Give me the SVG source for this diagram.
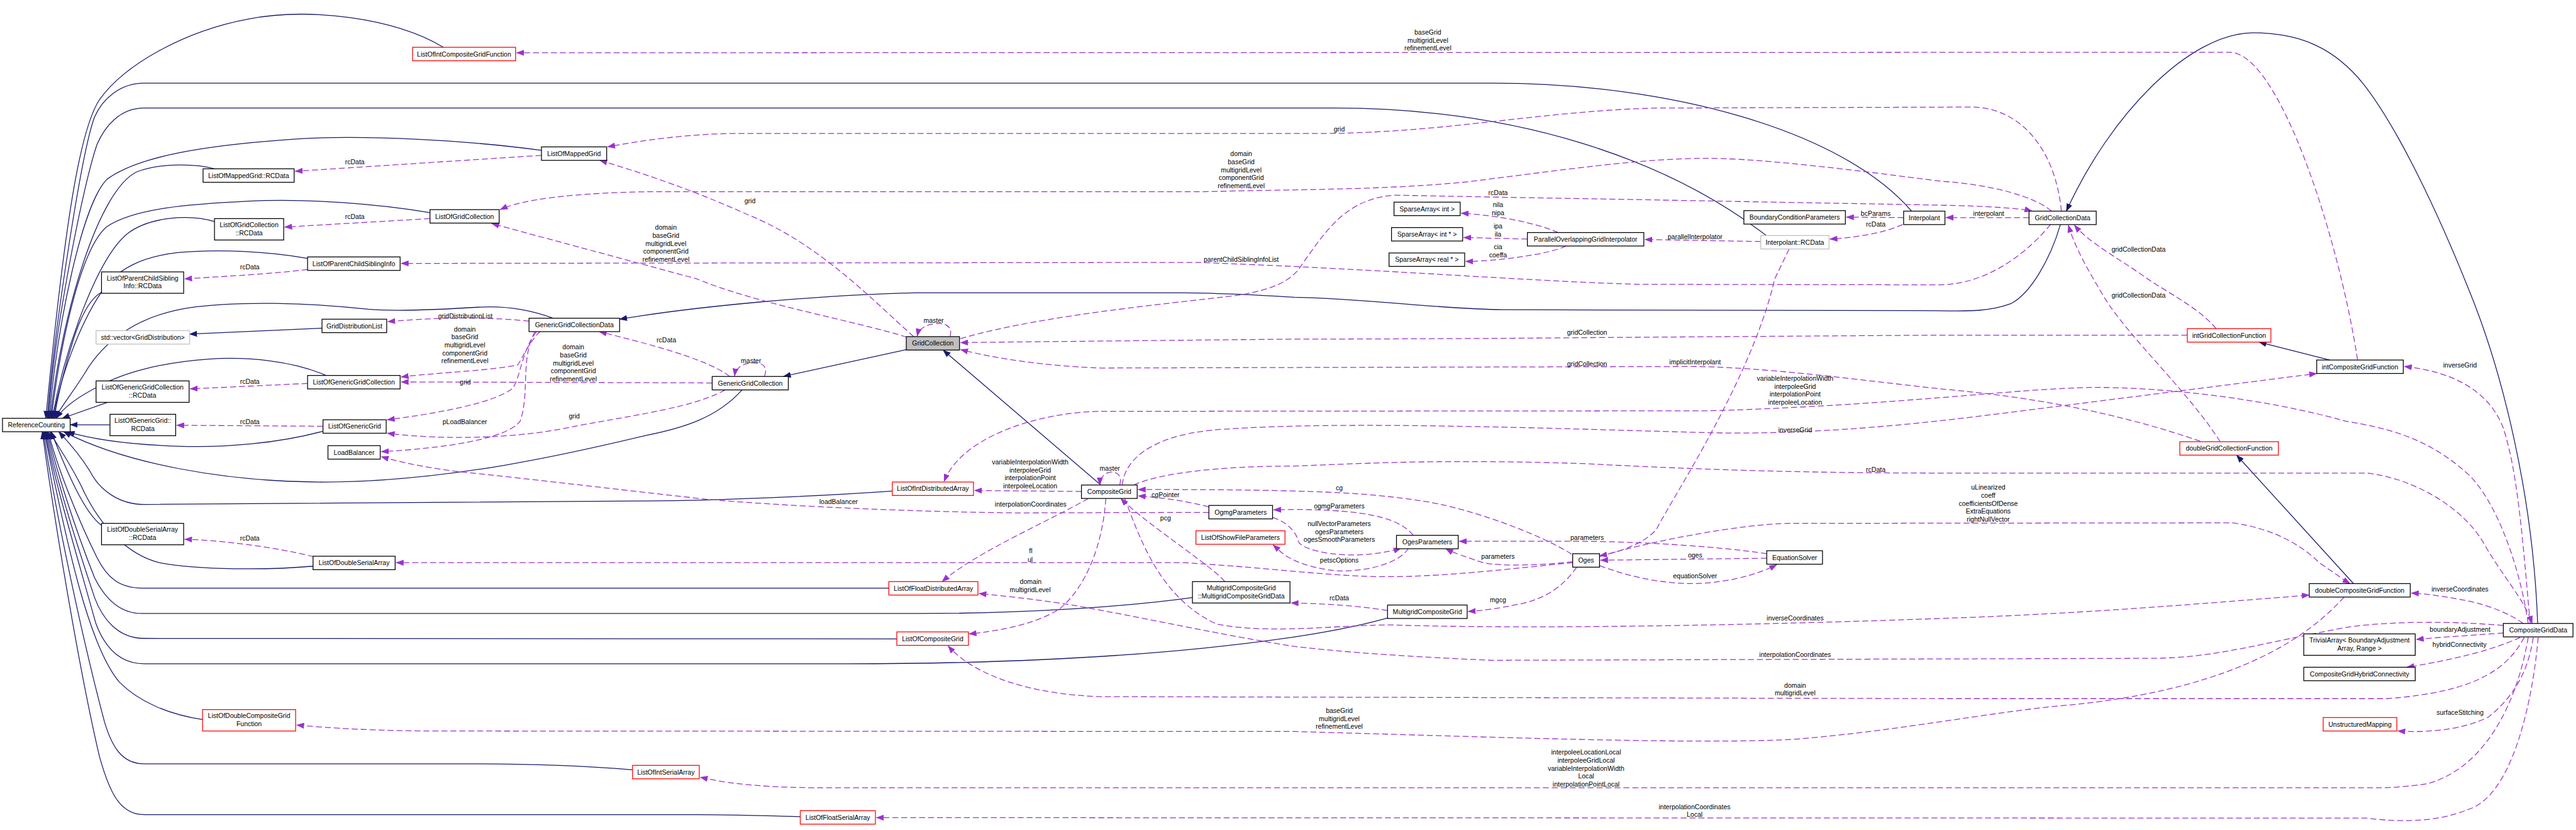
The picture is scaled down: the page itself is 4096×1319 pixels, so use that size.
<svg xmlns="http://www.w3.org/2000/svg" width="4096" height="1319" viewBox="0 0 4096 1319">
<defs>
<style>
.s{fill:none;stroke:#191970;stroke-width:1.6}
.d{fill:none;stroke:#9a32cd;stroke-width:1.6;stroke-dasharray:12,6}
.n rect{fill:#fff;stroke:#000;stroke-width:1.6}
.r rect{stroke:#ff0000}
.g rect{stroke:#bfbfbf}
.f rect{fill:#bfbfbf}
text{font-family:"Liberation Sans",Arial,sans-serif;font-size:13.3px;text-anchor:middle;fill:#000}
</style>
<marker id="ab" markerUnits="userSpaceOnUse" markerWidth="16" markerHeight="12" viewBox="0 0 16 12" refX="15" refY="6" orient="auto"><path d="M0,0 L16,6 L0,12 z" fill="#191970"/></marker>
<marker id="ap" markerUnits="userSpaceOnUse" markerWidth="16" markerHeight="12" viewBox="0 0 16 12" refX="15" refY="6" orient="auto"><path d="M0,0 L16,6 L0,12 z" fill="#9a32cd"/></marker>
</defs>
<rect width="4096" height="1319" fill="#fff"/>
<g transform="scale(0.79134)">
<g id="edges">
<g class="s" marker-end="url(#ab)">
<path d="M891,95 C790,35 620,15 500,38 C370,62 250,130 200,200 C160,260 130,450 92,840"/>
<path d="M3841,424 C3700,260 3350,167 3000,167 L290,167 C240,167 205,200 190,235 C165,300 110,650 95,840"/>
<path d="M3549,473 C3350,320 3050,217 2680,217 L290,217 C240,217 210,255 195,290 C170,360 110,650 97,840"/>
<path d="M1088,302 C950,283 720,268 570,281 C420,292 280,312 215,360 C165,410 115,650 99,840"/>
<path d="M431,339 C400,330 330,325 275,345 C200,380 125,620 101,840"/>
<path d="M864,427 C760,410 620,398 500,404 C380,410 270,418 215,455 C160,500 120,700 103,840"/>
<path d="M431,445 C380,430 300,435 255,470 C195,520 130,700 105,840"/>
<path d="M618,519 C540,505 440,500 360,507 C285,515 235,540 205,585 C160,650 120,760 107,840"/>
<path d="M204,587 C180,600 160,640 145,690 C130,740 115,800 109,840"/>
<path d="M1111,639 C1060,620 1010,614 960,617 C880,622 800,626 740,621 C620,608 480,604 380,618 C270,635 205,690 170,750 C145,790 120,820 111,840"/>
<path d="M647,659 L381,671"/>
<path d="M655,754 C590,725 500,716 420,721 C320,728 245,750 200,775 C160,795 130,815 113,840"/>
<path d="M216,808 L125,840"/>
<path d="M221,853 L141,853"/>
<path d="M649,866 C560,890 450,900 356,896 C270,893 195,885 135,867"/>
<path d="M1491,783 C1440,840 1370,860 1300,874 C1150,910 900,968 650,968 C450,968 250,930 128,867"/>
<path d="M1793,986 C1650,996 1450,1005 1300,1006 L290,1013 C240,1013 200,985 180,945 C155,905 130,880 118,867"/>
<path d="M204,1055 C170,1030 135,950 103,867"/>
<path d="M629,1137 C540,1145 400,1145 320,1130 C250,1112 200,1050 170,990 C145,935 115,895 100,867"/>
<path d="M1786,1181 L285,1181 C240,1181 215,1160 195,1120 C160,1050 115,940 97,867"/>
<path d="M2396,1200 C2250,1220 2050,1232 1850,1232 L285,1232 C240,1232 210,1200 190,1160 C150,1060 112,940 95,867"/>
<path d="M1802,1283 L290,1282 C235,1282 205,1240 190,1200 C150,1080 110,950 93,867"/>
<path d="M2788,1241 C2650,1280 2300,1333 1700,1333 L290,1333 C240,1333 210,1300 192,1250 C150,1100 108,960 91,867"/>
<path d="M407,1445 C340,1435 280,1410 240,1370 C180,1300 135,1100 89,867"/>
<path d="M1271,1546 C1150,1536 1050,1534 950,1534 L290,1534 C245,1534 225,1500 210,1450 C170,1300 115,1050 87,867"/>
<path d="M1608,1640 C1500,1637 1450,1636 1400,1636 L290,1636 C240,1636 220,1590 200,1520 C160,1350 110,1050 85,867"/>
<path d="M4140,451 C4120,520 4080,590 4040,610 C4000,625 3960,625 3900,624 L3020,622 C2900,621 2750,600 2600,597 C2500,590 2400,588 2380,588 L1840,588 C1650,592 1400,615 1245,641"/>
<path d="M1821,702 L1574,756"/>
<path d="M2212,974 L1895,703"/>
<path d="M4681,723 L4539,687"/>
<path d="M4729,1172 L4494,914"/>
<path d="M5099,1252 C5090,1000 5030,750 4960,580 C4900,430 4820,260 4750,170 C4690,95 4620,66 4527,66 C4400,66 4240,230 4152,424"/>
</g>
<g class="d" marker-end="url(#ap)">
<path d="M4737,722 C4700,480 4580,105 4480,105 L1038,106"/>
<path d="M4142,424 C4130,300 4060,215 3960,215 L3330,217 C3100,222 2900,268 2650,268 L1470,268 C1380,270 1300,280 1221,295"/>
<path d="M1088,312 L593,344"/>
<path d="M1836,676 C1760,610 1650,490 1500,430 C1400,385 1300,350 1205,322"/>
<path d="M1822,677 C1720,645 1520,610 1400,560 L988,449"/>
<path d="M4122,424 C4090,395 4000,370 3900,364 C3750,345 3550,318 3429,318 C3300,318 3150,340 2950,365 C2780,382 2600,380 2420,385 L1300,385 C1150,388 1050,400 1005,421"/>
<path d="M1930,680 C2100,630 2400,605 2494,592 C2560,580 2590,565 2610,540 C2660,470 2700,400 2800,392 L3900,412 C3990,414 4060,418 4083,424"/>
<path d="M4120,451 C4080,500 4000,570 3900,572 L3300,571 C3150,568 2900,550 2600,535 L2411,527 L806,529"/>
<path d="M4077,437 L3910,437"/>
<path d="M3825,437 L3710,436"/>
<path d="M3823,451 C3780,470 3720,478 3677,480"/>
<path d="M3538,485 L3305,481"/>
<path d="M3131,467 C3080,445 3000,432 2936,428"/>
<path d="M3069,480 L2941,477"/>
<path d="M3147,494 C3110,512 3000,525 2945,525"/>
<path d="M1063,645 C1000,638 900,635 779,646"/>
<path d="M1086,665 C1060,690 1050,720 1040,733 C980,745 880,748 806,757"/>
<path d="M1078,666 C1050,700 1045,760 1030,780 C990,810 880,830 778,843"/>
<path d="M1075,666 C1045,720 1065,790 1045,846 C1020,880 900,900 766,907"/>
<path d="M1431,769 L806,767"/>
<path d="M1457,783 C1400,815 1300,830 1160,855 C1050,880 900,885 778,870"/>
<path d="M1466,756 C1420,720 1300,690 1204,666"/>
<path d="M1536,756 C1545,733 1528,727 1508,729 C1490,731 1478,740 1476,755"/>
<path d="M1909,676 C1915,655 1900,648 1880,650 C1860,652 1846,660 1843,675"/>
<path d="M4395,673 L3900,673 L3189,678 C3000,680 2700,681 2600,681 C2300,684 2100,686 1930,688"/>
<path d="M4421,886 C4200,810 4000,790 3900,781 C3750,765 3550,737 3400,736 L2212,739 C2100,735 2000,720 1930,702"/>
<path d="M4453,660 C4420,620 4360,590 4315,560 C4260,520 4200,490 4168,452"/>
<path d="M4461,887 C4400,790 4280,680 4230,600 C4200,550 4170,500 4156,452"/>
<path d="M2173,987 L1958,985"/>
<path d="M5080,1252 C5060,1120 5010,1000 4960,953 C4880,880 4800,860 4714,846 C4550,800 4350,778 4209,778 C4050,780 3800,815 3430,825 L2212,826 C2080,828 1930,880 1897,967"/>
<path d="M2255,974 C2260,920 2320,870 2460,862 C2700,845 3100,860 3400,868 C3600,875 3800,858 4000,833 C4300,795 4500,770 4655,750"/>
<path d="M2278,974 C2330,950 2450,936 2600,936 C2750,930 2900,922 3180,931 C3400,942 3600,950 3900,950 L4755,950 C4850,960 4950,1020 4990,1090 C5030,1160 5070,1200 5088,1252"/>
<path d="M2250,974 C2255,955 2245,947 2232,948 C2218,950 2210,960 2210,974"/>
<path d="M3158,1113 C3100,1075 2950,1018 2850,1005 C2750,990 2650,983 2287,983"/>
<path d="M2429,1018 C2380,1005 2330,999 2287,996"/>
<path d="M2840,1075 C2810,1040 2750,1024 2600,1023 L2559,1024"/>
<path d="M2557,1039 C2590,1050 2605,1070 2610,1090 C2630,1110 2700,1118 2750,1113 C2780,1110 2800,1106 2815,1101"/>
<path d="M2830,1101 C2810,1135 2730,1150 2683,1146 C2630,1140 2590,1125 2570,1105 L2558,1094"/>
<path d="M3550,1112 C3450,1097 3300,1088 3180,1087 L2932,1087"/>
<path d="M3160,1128 C3100,1135 3020,1138 2980,1130 C2950,1120 2920,1110 2905,1102"/>
<path d="M3550,1121 L3216,1125"/>
<path d="M3214,1136 C3280,1160 3340,1172 3404,1172 C3480,1170 3540,1150 3570,1134"/>
<path d="M3168,1139 C3140,1180 3100,1205 3048,1214 C3010,1222 2980,1226 2950,1228"/>
<path d="M3160,1130 C3050,1140 2900,1160 2766,1158 C2650,1155 2550,1140 2378,1130 L796,1130"/>
<path d="M3595,500 L3566,560 C3520,760 3360,1000 3330,1060 C3310,1090 3250,1110 3214,1116"/>
<path d="M3214,1118 C3300,1090 3500,1051 3600,1051 L4486,1050 C4560,1060 4620,1090 4660,1130 C4690,1150 4710,1165 4722,1172"/>
<path d="M2187,1001 C2100,1050 1960,1110 1893,1168"/>
<path d="M2222,1001 C2215,1100 2180,1180 2130,1222 C2080,1255 2000,1268 1947,1273"/>
<path d="M2461,1168 C2440,1140 2300,1050 2252,1001"/>
<path d="M2260,1001 C2290,1080 2330,1200 2444,1253 C2550,1275 2700,1254 2800,1255 C3000,1262 3400,1260 3900,1242 C4200,1232 4450,1210 4640,1195"/>
<path d="M5070,1252 C5040,1230 4990,1212 4950,1205 C4900,1196 4870,1192 4845,1191"/>
<path d="M5030,1256 C4900,1245 4780,1250 4714,1260 C4550,1290 4450,1322 4323,1322 L3000,1326 C2850,1320 2700,1310 2600,1298 C2450,1275 2250,1230 2129,1211 C2050,1200 2000,1195 1967,1192"/>
<path d="M5072,1280 C5040,1340 4980,1390 4795,1403 L3900,1403 L2212,1399 C2080,1395 1960,1360 1905,1297"/>
<path d="M5030,1271 C4980,1275 4900,1280 4855,1284"/>
<path d="M5064,1280 C5000,1310 4900,1330 4836,1340"/>
<path d="M5090,1280 C5080,1350 5050,1400 5000,1440 C4950,1465 4880,1472 4818,1468"/>
<path d="M5080,1280 C5060,1400 5000,1540 4877,1574 C4820,1582 4790,1582 4779,1582 L1632,1582 C1500,1580 1450,1570 1407,1561"/>
<path d="M5100,1280 C5090,1400 5050,1600 4958,1626 C4900,1650 4830,1652 4755,1643 L1761,1642"/>
<path d="M4710,1199 C4620,1300 4450,1390 4144,1417 C4000,1430 3800,1470 3600,1485 C3400,1495 3000,1480 2600,1469 L880,1468 C760,1468 660,1462 596,1456"/>
<path d="M5084,1252 C5070,1100 5060,950 5030,860 C5000,780 4920,745 4831,736"/>
<path d="M2429,1029 L2046,1030 C1850,1028 1600,1018 1424,1003 C1300,990 1078,963 912,946 C850,938 800,927 766,917"/>
<path d="M618,770 L382,781"/>
<path d="M649,856 L355,854"/>
<path d="M864,439 L572,456"/>
<path d="M618,541 C550,550 450,555 371,560"/>
<path d="M630,1118 C560,1100 450,1085 371,1083"/>
<path d="M2788,1226 C2720,1215 2650,1212 2594,1211"/>
</g>
<g id="edge-labels">
<text x="2869" y="69.7">baseGrid</text><text x="2869" y="85.7">multigridLevel</text><text x="2869" y="101.7">refinementLevel</text>
<text x="713" y="329.7">rcData</text>
<text x="2691" y="264.7">grid</text>
<text x="1507" y="408.7">grid</text>
<text x="2494" y="313.7">domain</text><text x="2494" y="329.7">baseGrid</text><text x="2494" y="345.7">multigridLevel</text><text x="2494" y="361.7">componentGrid</text><text x="2494" y="377.7">refinementLevel</text>
<text x="713" y="439.7">rcData</text>
<text x="1338" y="461.7">domain</text><text x="1338" y="477.7">baseGrid</text><text x="1338" y="493.7">multigridLevel</text><text x="1338" y="509.7">componentGrid</text><text x="1338" y="525.7">refinementLevel</text>
<text x="502" y="540.3">rcData</text>
<text x="2494" y="525.3">parentChildSiblingInfoList</text>
<text x="3010" y="391.4">rcData</text>
<text x="3010" y="416.4">nila</text><text x="3010" y="432.5">nipa</text>
<text x="3010" y="459.3">ipa</text><text x="3010" y="475.4">ila</text>
<text x="3010" y="500.3">cia</text><text x="3010" y="516.4">coeffa</text>
<text x="3406" y="480.7">parallelInterpolator</text>
<text x="3769" y="433.3">bcParams</text><text x="3769" y="455.3">rcData</text>
<text x="3996" y="433.3">interpolant</text>
<text x="4297" y="505.7">gridCollectionData</text><text x="4297" y="597.7">gridCollectionData</text>
<text x="935" y="639.7">gridDistributionList</text>
<text x="934" y="665.7">domain</text><text x="934" y="681.7">baseGrid</text><text x="934" y="697.7">multigridLevel</text><text x="934" y="713.7">componentGrid</text><text x="934" y="729.7">refinementLevel</text>
<text x="1152" y="701.7">domain</text><text x="1152" y="717.7">baseGrid</text><text x="1152" y="733.7">multigridLevel</text><text x="1152" y="749.7">componentGrid</text><text x="1152" y="765.7">refinementLevel</text>
<text x="935" y="772.7">grid</text>
<text x="502" y="770.7">rcData</text>
<text x="502" y="851.7">rcData</text>
<text x="934" y="851.4">pLoadBalancer</text>
<text x="1154" y="840.3">grid</text>
<text x="1339" y="687.7">rcData</text>
<text x="1509" y="728.7">master</text>
<text x="1876" y="648.7">master</text>
<text x="3189" y="672.7">gridCollection</text>
<text x="3189" y="735.4">gridCollection</text>
<text x="3406" y="731.5">implicitInterpolant</text>
<text x="3607" y="764.7">variableInterpolationWidth</text><text x="3607" y="780.7">interpoleeGrid</text><text x="3607" y="796.7">interpolationPoint</text><text x="3607" y="812.7">interpoleeLocation</text>
<text x="3607" y="867.7">inverseGrid</text>
<text x="3769" y="947.7">rcData</text>
<text x="4943" y="737.7">inverseGrid</text>
<text x="3995" y="983.2">uLinearized</text><text x="3995" y="999.3">coeff</text><text x="3995" y="1015.4">coefficientsOfDense</text><text x="3995" y="1031.4">ExtraEquations</text><text x="3995" y="1047.5">rightNullVector</text>
<text x="2070" y="932.7">variableInterpolationWidth</text><text x="2070" y="948.7">interpoleeGrid</text><text x="2070" y="964.7">interpolationPoint</text><text x="2070" y="980.7">interpoleeLocation</text>
<text x="2230" y="945.7">master</text>
<text x="2342" y="997.7">cgPointer</text>
<text x="2071" y="1017.4">interpolationCoordinates</text>
<text x="1685" y="1011.7">loadBalancer</text>
<text x="2342" y="1045.2">pcg</text>
<text x="2071" y="1110.7">fl</text><text x="2070" y="1128.2">ul</text>
<text x="2691" y="984.2">cg</text>
<text x="2691" y="1020.7">ogmgParameters</text>
<text x="2691" y="1056.3">nullVectorParameters</text><text x="2691" y="1072.4">ogesParameters</text><text x="2691" y="1088.4">ogesSmoothParameters</text>
<text x="3189" y="1084.7">parameters</text>
<text x="3010" y="1121.7">parameters</text>
<text x="3406" y="1119.2">oges</text>
<text x="2691" y="1129.7">petscOptions</text>
<text x="3406" y="1161.3">equationSolver</text>
<text x="2691" y="1205.7">rcData</text>
<text x="3010" y="1209.7">mgcg</text>
<text x="2071" y="1172.7">domain</text><text x="2070" y="1188.7">multigridLevel</text>
<text x="502" y="1085.3">rcData</text>
<text x="3607" y="1245.7">inverseCoordinates</text>
<text x="3607" y="1319.4">interpolationCoordinates</text>
<text x="3607" y="1380.7">domain</text><text x="3607" y="1396.2">multigridLevel</text>
<text x="2691" y="1431.7">baseGrid</text><text x="2691" y="1447.7">multigridLevel</text><text x="2691" y="1463.2">refinementLevel</text>
<text x="3187" y="1515.7">interpoleeLocationLocal</text><text x="3187" y="1531.2">interpoleeGridLocal</text><text x="3187" y="1547.7">variableInterpolationWidth</text><text x="3187" y="1563.7">Local</text><text x="3187" y="1579.7">interpolationPointLocal</text>
<text x="3405" y="1624.7">interpolationCoordinates</text><text x="3405" y="1640.4">Local</text>
<text x="4943" y="1187.7">inverseCoordinates</text>
<text x="4943" y="1268.7">boundaryAdjustment</text>
<text x="4942" y="1299.2">hybridConnectivity</text>
<text x="4943" y="1435.2">surfaceStitching</text>
</g>
</g>
<g id="nodes">
<g id="n1" class="n r"><rect x="829" y="95" width="207" height="27"/><text x="932.5" y="113.2">ListOfIntCompositeGridFunction</text></g>
<g id="n2" class="n"><rect x="1088" y="295" width="131" height="27"/><text x="1153.5" y="313.2">ListOfMappedGrid</text></g>
<g id="n3" class="n"><rect x="408" y="339" width="183" height="27"/><text x="499.5" y="357.2">ListOfMappedGrid::RCData</text></g>
<g id="n4" class="n"><rect x="864" y="421" width="139" height="27"/><text x="933.5" y="439.2">ListOfGridCollection</text></g>
<g id="n5" class="n"><rect x="431" y="439" width="139" height="43"/><text x="500.5" y="456.3">ListOfGridCollection</text><text x="500.5" y="472.4">::RCData</text></g>
<g id="n6" class="n"><rect x="618" y="516" width="186" height="27"/><text x="711" y="534.2">ListOfParentChildSiblingInfo</text></g>
<g id="n7" class="n"><rect x="204" y="546" width="165" height="43"/><text x="286.5" y="563.3">ListOfParentChildSibling</text><text x="286.5" y="579.4">Info::RCData</text></g>
<g id="n8" class="n"><rect x="1063" y="639" width="182" height="27"/><text x="1154" y="657.2">GenericGridCollectionData</text></g>
<g id="n9" class="n"><rect x="647" y="641" width="130" height="27"/><text x="712" y="659.2">GridDistributionList</text></g>
<g id="n10" class="n g"><rect x="193" y="664" width="188" height="27"/><text x="287" y="682.2">std::vector&lt;GridDistribution&gt;</text></g>
<g id="n11" class="n"><rect x="618" y="754" width="186" height="27"/><text x="711" y="772.2">ListOfGenericGridCollection</text></g>
<g id="n12" class="n"><rect x="193" y="765" width="187" height="43"/><text x="286.5" y="782.3">ListOfGenericGridCollection</text><text x="286.5" y="798.4">::RCData</text></g>
<g id="n13" class="n"><rect x="5" y="840" width="136" height="27"/><text x="73" y="858.2">ReferenceCounting</text></g>
<g id="n14" class="n"><rect x="221" y="832" width="132" height="43"/><text x="287" y="849.3">ListOfGenericGrid::</text><text x="287" y="865.4">RCData</text></g>
<g id="n15" class="n"><rect x="649" y="843" width="127" height="27"/><text x="712.5" y="861.2">ListOfGenericGrid</text></g>
<g id="n16" class="n"><rect x="659" y="895" width="105" height="27"/><text x="711.5" y="913.2">LoadBalancer</text></g>
<g id="n17" class="n"><rect x="204" y="1051" width="165" height="43"/><text x="286.5" y="1068.3">ListOfDoubleSerialArray</text><text x="286.5" y="1084.4">::RCData</text></g>
<g id="n18" class="n"><rect x="629" y="1117" width="165" height="27"/><text x="711.5" y="1135.2">ListOfDoubleSerialArray</text></g>
<g id="n19" class="n r"><rect x="407" y="1425" width="187" height="43"/><text x="500.5" y="1442.3">ListOfDoubleCompositeGrid</text><text x="500.5" y="1458.4">Function</text></g>
<g id="n20" class="n r"><rect x="1271" y="1537" width="134" height="27"/><text x="1338" y="1555.2">ListOfIntSerialArray</text></g>
<g id="n21" class="n r"><rect x="1786" y="1168" width="179" height="27"/><text x="1875.5" y="1186.2">ListOfFloatDistributedArray</text></g>
<g id="n22" class="n r"><rect x="1802" y="1269" width="144" height="27"/><text x="1874" y="1287.2">ListOfCompositeGrid</text></g>
<g id="n23" class="n"><rect x="2396" y="1168" width="196" height="43"/><text x="2494" y="1185.3">MultigridCompositeGrid</text><text x="2494" y="1201.4">::MultigridCompositeGridData</text></g>
<g id="n24" class="n r"><rect x="1608" y="1628" width="151" height="27"/><text x="1683.5" y="1646.2">ListOfFloatSerialArray</text></g>
<g id="n25" class="n f"><rect x="1821" y="676" width="107" height="27"/><text x="1874.5" y="694.2">GridCollection</text></g>
<g id="n26" class="n"><rect x="1431" y="756" width="153" height="27"/><text x="1507.5" y="774.2">GenericGridCollection</text></g>
<g id="n27" class="n r"><rect x="1793" y="968" width="163" height="27"/><text x="1874.5" y="986.2">ListOfIntDistributedArray</text></g>
<g id="n28" class="n"><rect x="2173" y="974" width="112" height="27"/><text x="2229" y="992.2">CompositeGrid</text></g>
<g id="n29" class="n"><rect x="2429" y="1015" width="128" height="27"/><text x="2493" y="1033.2">OgmgParameters</text></g>
<g id="n30" class="n r"><rect x="2403" y="1066" width="179" height="27"/><text x="2492.5" y="1084.2">ListOfShowFileParameters</text></g>
<g id="n31" class="n"><rect x="2806" y="1075" width="124" height="27"/><text x="2868" y="1093.2">OgesParameters</text></g>
<g id="n32" class="n"><rect x="3160" y="1112" width="54" height="27"/><text x="3187" y="1130.2">Oges</text></g>
<g id="n33" class="n"><rect x="3550" y="1106" width="112" height="27"/><text x="3606" y="1124.2">EquationSolver</text></g>
<g id="n34" class="n"><rect x="2788" y="1215" width="160" height="27"/><text x="2868" y="1233.2">MultigridCompositeGrid</text></g>
<g id="n35" class="n"><rect x="2801" y="406" width="133" height="27"/><text x="2867.5" y="424.2">SparseArray&lt; int &gt;</text></g>
<g id="n36" class="n"><rect x="2796" y="457" width="143" height="27"/><text x="2867.5" y="475.2">SparseArray&lt; int * &gt;</text></g>
<g id="n37" class="n"><rect x="2791" y="508" width="152" height="27"/><text x="2867" y="526.2">SparseArray&lt; real * &gt;</text></g>
<g id="n38" class="n"><rect x="3069" y="467" width="234" height="27"/><text x="3186" y="485.2">ParallelOverlappingGridInterpolator</text></g>
<g id="n39" class="n g"><rect x="3538" y="473" width="137" height="27"/><text x="3606.5" y="491.2">Interpolant::RCData</text></g>
<g id="n40" class="n"><rect x="3504" y="423" width="204" height="27"/><text x="3606" y="441.2">BoundaryConditionParameters</text></g>
<g id="n41" class="n"><rect x="3825" y="424" width="83" height="27"/><text x="3866.5" y="442.2">Interpolant</text></g>
<g id="n42" class="n"><rect x="4077" y="424" width="135" height="27"/><text x="4144.5" y="442.2">GridCollectionData</text></g>
<g id="n43" class="n r"><rect x="4395" y="660" width="168" height="27"/><text x="4479" y="678.2">intGridCollectionFunction</text></g>
<g id="n44" class="n"><rect x="4655" y="723" width="174" height="27"/><text x="4742" y="741.2">intCompositeGridFunction</text></g>
<g id="n45" class="n r"><rect x="4380" y="887" width="198" height="27"/><text x="4479" y="905.2">doubleGridCollectionFunction</text></g>
<g id="n46" class="n"><rect x="4640" y="1172" width="203" height="27"/><text x="4741.5" y="1190.2">doubleCompositeGridFunction</text></g>
<g id="n47" class="n"><rect x="5030" y="1252" width="140" height="27"/><text x="5100" y="1270.2">CompositeGridData</text></g>
<g id="n48" class="n"><rect x="4629" y="1273" width="224" height="43"/><text x="4741" y="1290.3">TrivialArray&lt; BoundaryAdjustment</text><text x="4741" y="1306.4">Array, Range &gt;</text></g>
<g id="n49" class="n"><rect x="4629" y="1340" width="224" height="27"/><text x="4741" y="1358.2">CompositeGridHybridConnectivity</text></g>
<g id="n50" class="n r"><rect x="4668" y="1441" width="148" height="27"/><text x="4742" y="1459.2">UnstructuredMapping</text></g>
</g>
</g>
</svg>
